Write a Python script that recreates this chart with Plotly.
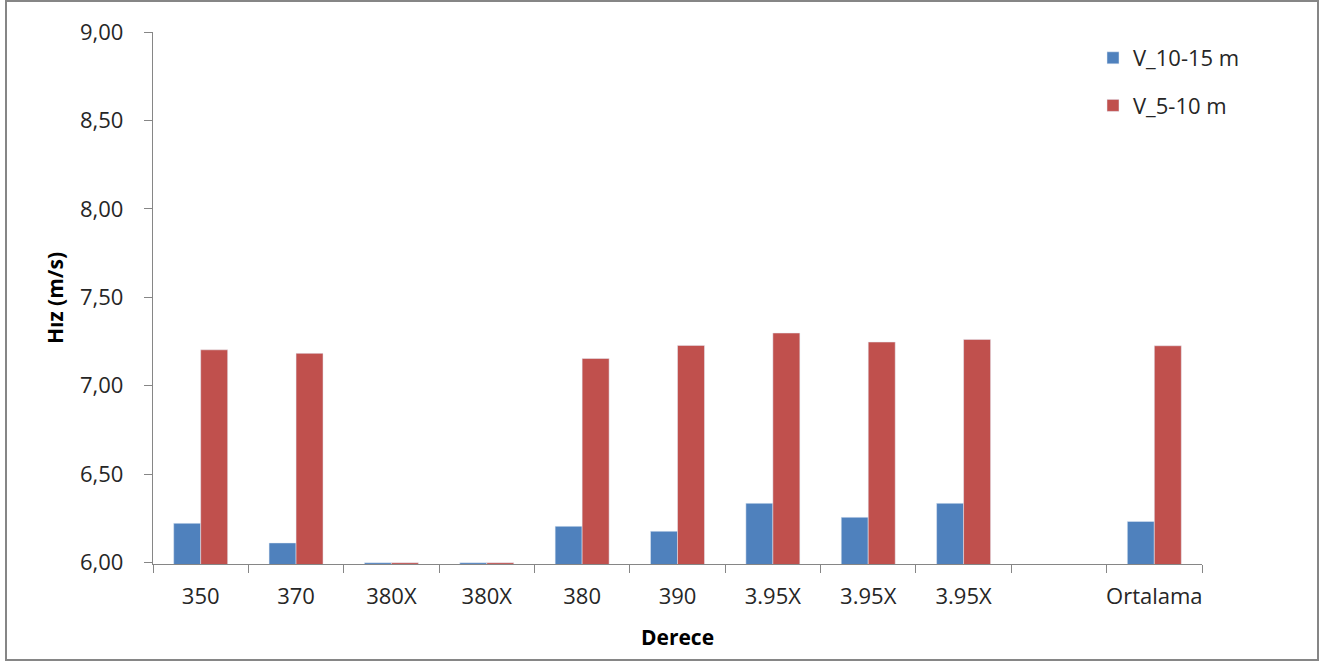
import plotly.graph_objects as go

categories = ["350", "370", "380X", "380X", "380", "390", "3.95X", "3.95X", "3.95X", "", "Ortalama"]
v_10_15 = [6.222, 6.111, 5.999, 5.999, 6.205, 6.177, 6.335, 6.256, 6.335, None, 6.233]
v_5_10 = [7.203, 7.183, 5.999, 5.999, 7.154, 7.228, 7.298, 7.247, 7.262, None, 7.226]
y_ticks = [6.0, 6.5, 7.0, 7.5, 8.0, 8.5, 9.0]

positions = list(range(len(categories)))
boundaries = [p - 0.5 for p in positions] + [positions[-1] + 0.5]

FONT = "Open Sans"
GRAY = "#868686"

fig = go.Figure()
fig.add_trace(go.Bar(x=positions, y=v_10_15, name="V_10-15 m", marker_color="#4F81BD",
                     legendgroup="a"))
fig.add_trace(go.Bar(x=positions, y=v_5_10, name="V_5-10 m", marker_color="#C0504D",
                     legendgroup="b"))

# plot area: x 153..1202, y 32..563
L, R, T, B = 153, 134, 32, 99
W, H = 1336, 663
pw, ph = W - L - R, H - T - B

def px_x(p):
    return (p - L) / pw

def px_y(p):
    return (H - B - p) / ph

fig.update_layout(
    width=W, height=H,
    margin=dict(l=L, r=R, t=T, b=B),
    paper_bgcolor="white", plot_bgcolor="white",
    separators=",.",
    barmode="group", bargap=0.434, bargroupgap=0,
    font=dict(family=FONT, size=22, color="#262626"),
    showlegend=True,
    legend=dict(x=px_x(1093), y=px_y(37), xanchor="left", yanchor="top",
                font=dict(family=FONT, size=22, color="#262626"),
                tracegroupgap=16, traceorder="grouped", bgcolor="rgba(0,0,0,0)"),
    xaxis=dict(
        range=[-0.5, len(categories) - 0.5],
        tickmode="array", tickvals=positions, ticktext=categories,
        ticks="", ticklabelstandoff=12,
        showline=True, linecolor=GRAY, linewidth=1.3,
        showgrid=False, zeroline=False,
        minor=dict(tickmode="array", tickvals=boundaries, ticks="outside",
                   ticklen=8, tickcolor=GRAY, tickwidth=1.3, showgrid=False),
        title=dict(text="<b>Derece</b>", font=dict(family=FONT, size=21, color="black"),
                   standoff=21),
        fixedrange=True,
    ),
    yaxis=dict(
        range=[5.992, 9.0],
        tickmode="array", tickvals=y_ticks, tickformat=".2f",
        ticks="outside", ticklen=8, tickcolor=GRAY, tickwidth=1.3,
        ticklabelstandoff=16,
        showline=True, linecolor=GRAY, linewidth=1.3,
        showgrid=False, zeroline=False,
        title=dict(text="<b>Hız (m/s)</b>", font=dict(family=FONT, size=21, color="black"),
                   standoff=10),
        fixedrange=True,
    ),
    shapes=[dict(type="rect", xref="paper", yref="paper",
                 x0=px_x(6), x1=px_x(1318), y0=px_y(660), y1=px_y(1),
                 line=dict(color=GRAY, width=2), fillcolor="rgba(0,0,0,0)", layer="below")],
)

fig.write_html("out.html", config={"displayModeBar": False},
               post_script="document.body.style.margin='0';document.body.style.overflow='hidden';")
